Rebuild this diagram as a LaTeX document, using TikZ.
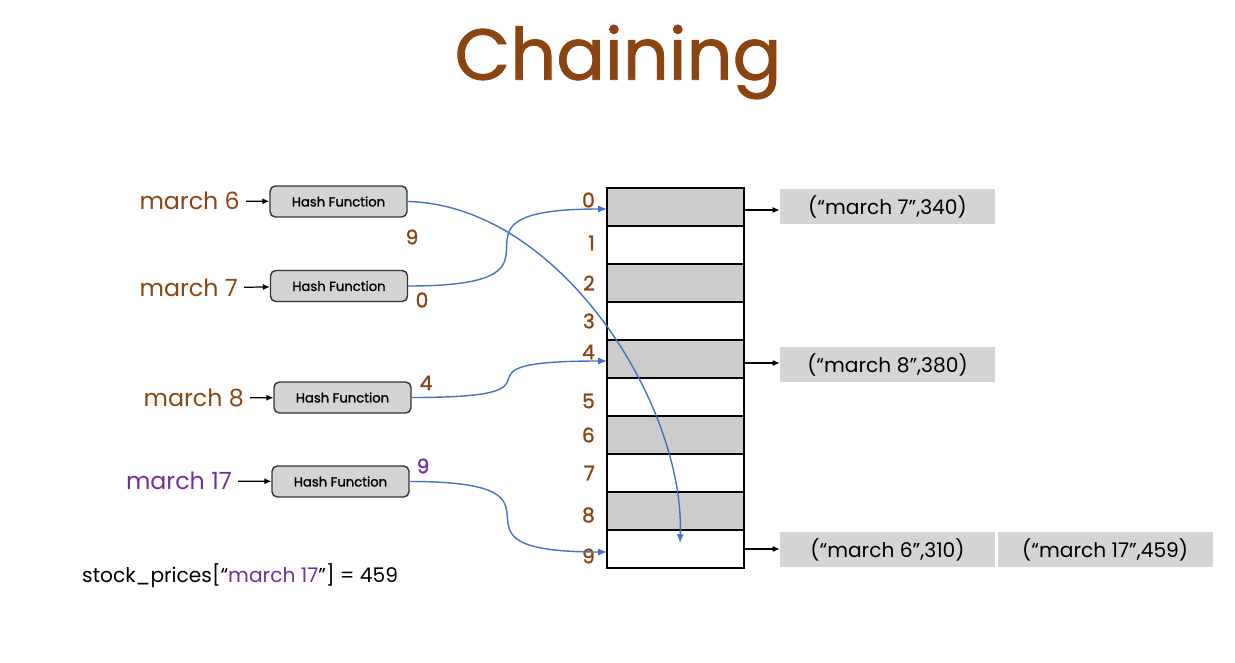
\documentclass[tikz,border=0pt]{standalone}
\usepackage{fontspec}
\setmainfont{Poppins}
\newfontfamily\semibold[FakeBold=1.2]{Poppins}
\usetikzlibrary{arrows.meta,positioning}

\definecolor{titlebrown}{RGB}{139,69,19}
\definecolor{keypurple}{RGB}{112,48,160}
\definecolor{linkblue}{RGB}{68,114,196}
\definecolor{cellgray}{RGB}{204,204,204}
\definecolor{entrygray}{RGB}{212,212,212}

\begin{document}
\begin{tikzpicture}[
    x=0.02cm, y=-0.02cm,
    every node/.style={font=\fontsize{11.5}{13}\selectfont},
    cell/.style={draw, line width=0.8pt, minimum width=2.74cm, minimum height=0.76cm,
        inner sep=0pt, outer sep=0pt},
    shaded/.style={cell, fill=cellgray},
    hashbox/.style={draw=black!80, fill=entrygray, rounded corners=3pt, line width=0.8pt,
        minimum width=2.74cm, minimum height=0.62cm, font=\semibold\fontsize{7.5}{9}\selectfont},
    keylabel/.style={anchor=east, text=titlebrown, font=\fontsize{13.5}{15}\selectfont},
    idx/.style={anchor=east, text=titlebrown, font=\semibold\fontsize{11.5}{12}\selectfont},
    entry/.style={fill=entrygray, minimum width=4.3cm, minimum height=0.7cm, inner sep=0pt},
    keyarrow/.style={-{Latex[length=4pt,width=3.5pt]}, line width=0.7pt},
    link/.style={-{Latex[length=5pt,width=4pt]}, draw=linkblue, line width=0.8pt}
]
    \useasboundingbox (0,0) rectangle (1235,663);

    % Title
    \node[text=titlebrown, font=\semibold\fontsize{41}{48}\selectfont] (title) at (618,62) {Chaining};

    % Hash table, rows 0..9
    \foreach \i in {0,2,4,6,8} {
        \node[shaded] (r\i) at (675.5,{207+38*\i}) {};
    }
    \foreach \i in {1,3,5,7,9} {
        \node[cell] (r\i) at (675.5,{207+38*\i}) {};
    }
    % Row indices
    \foreach \i/\y in {0/200,1/243,2/283,3/321,4/352,5/401,6/435,7/473,8/515,9/556} {
        \node[idx] (i\i) at (601,\y) {\i};
    }

    % Keys and hash functions
    \node[keylabel] (k6) at (246,201) {march 6};
    \node[keylabel] (k7) at (244,288) {march 7};
    \node[keylabel] (k8) at (250,398) {march 8};
    \node[keylabel, text=keypurple] (k17) at (238,481) {march 17};

    \node[hashbox] (h6) at (338.5,201.5) {Hash Function};
    \node[hashbox] (h7) at (339,286) {Hash Function};
    \node[hashbox] (h8) at (342.5,397.5) {Hash Function};
    \node[hashbox] (h17) at (340.5,481.5) {Hash Function};

    \draw[keyarrow] (k6) -- (h6);
    \draw[keyarrow] (k7) -- (h7);
    \draw[keyarrow] (k8) -- (h8);
    \draw[keyarrow] (k17) -- (h17);

    % Hash values
    \node[idx, anchor=center] (o6) at (412,237) {9};
    \node[idx, anchor=center] (o7) at (422,300) {0};
    \node[idx, anchor=center] (o8) at (426,383) {4};
    \node[idx, anchor=center, text=keypurple] (o17) at (423,466) {9};

    % Links from hash functions into the table
    \coordinate (hit9) at (680,543);
    \draw[link] (h6.east) .. controls (560,205) and (685,405) .. (hit9);
    \draw[link] (h7.east) to[out=0, in=180, looseness=2.3] ([yshift=-0.04cm]r0.west);
    \draw[link] (h8.east) to[out=0, in=180, looseness=2.3] ([yshift=-0.04cm]r4.west);
    \draw[link] (h17.east) to[out=0, in=180, looseness=2.3] ([yshift=-0.06cm]r9.west);

    % Chains
    \node[entry] (e7) at (887.5,206.5) {(“march 7”,340)};
    \node[entry] (e8) at (887.5,364.5) {(“march 8”,380)};
    \node[entry] (e6) at (887.5,549.5) {(“march 6”,310)};
    \node[entry, right=0.04cm of e6] (e17) {(“march 17”,459)};

    \draw[keyarrow] ([yshift=-0.06cm]r0.east) -- ([yshift=-0.06cm]r0.east -| e7.west);
    \draw[keyarrow] ([yshift=-0.08cm]r4.east) -- ([yshift=-0.08cm]r4.east -| e8.west);
    \draw[keyarrow] (r9.east) -- (r9.east -| e6.west);

    % Lookup
    \node[anchor=west] (lookup) at (76,576)
        {stock\_prices[“\textcolor{keypurple}{march 17}”] = 459};
\end{tikzpicture}
\end{document}
